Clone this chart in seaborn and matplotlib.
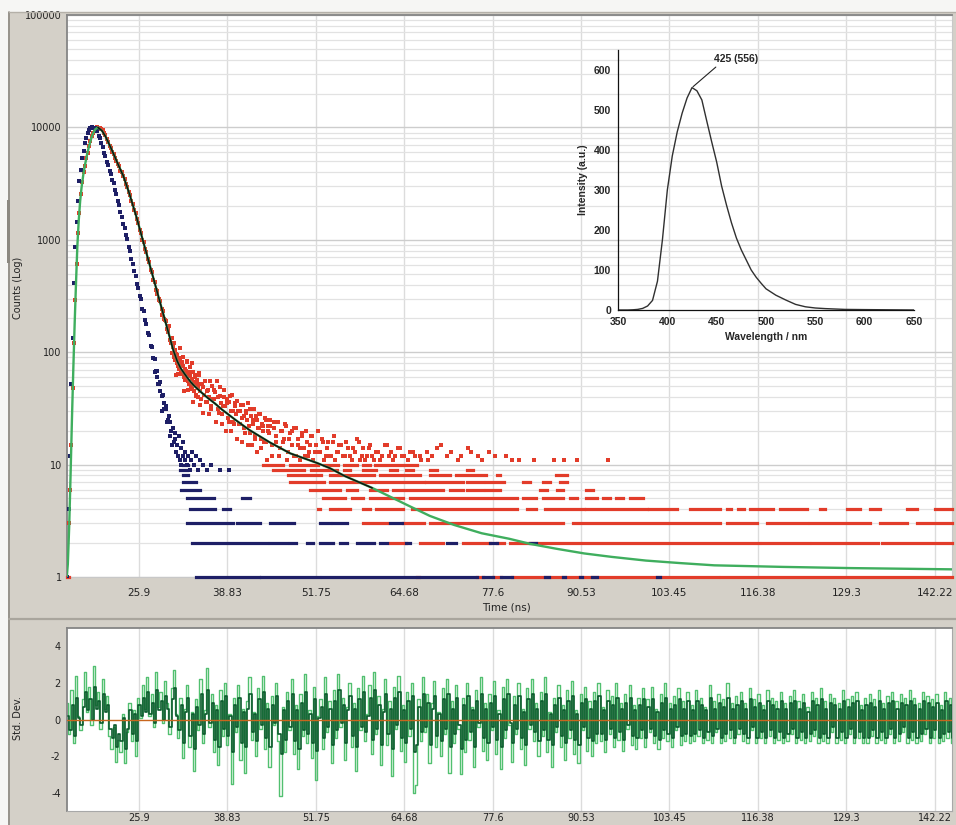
import numpy as np
import matplotlib
matplotlib.use("Agg")
import matplotlib.pyplot as plt
from matplotlib.patches import Rectangle
from matplotlib.lines import Line2D
from matplotlib.ticker import LogLocator, NullFormatter, FixedLocator, MultipleLocator
import seaborn as sns

sns.set_style("white")
plt.rcParams["font.family"] = ["DejaVu Sans"]

# ---------------- axis ticks ----------------
time_ticks = [25.9, 38.83, 51.75, 64.68, 77.6, 90.53, 103.45, 116.38, 129.3, 142.22]
time_tick_labels = ["25.9", "38.83", "51.75", "64.68", "77.6", "90.53",
                    "103.45", "116.38", "129.3", "142.22"]
count_ticks = [1, 10, 100, 1000, 10000, 100000]
count_tick_labels = ["1", "10", "100", "1000", "10000", "100000"]
resid_ticks = [-4, -2, 0, 2, 4]
resid_tick_labels = ["-4", "-2", "0", "2", "4"]

# ---------------- decay data (counts per channel) ----------------
channel_start = 15.4   # ns
channel_step = 0.2     # ns

# instrument response (prompt) near the peak
irf_counts = [1, 4, 12, 52, 135, 410, 870, 1430, 2200, 3350,
              4200, 5300, 6200, 7300, 8050, 8950, 9500, 9950, 10050, 9950,
              9900, 9500, 9200, 8450, 8000, 7200, 6700, 5950, 5550, 4950,
              4620, 4100, 3850, 3420, 3200, 2780, 2550, 2200, 2030, 1750,
              1610, 1390, 1280, 1100, 1020, 870, 790, 680, 615, 525,
              478, 405, 372, 315, 296, 243, 231, 192, 180, 148,
              141, 114, 111, 88, 87, 68, 68, 52, 54, 41,
              42, 31, 33, 24, 25, 18, 20, 15, 16]

# sample decay near the peak
decay_counts = [1, 3, 6, 15, 48, 120, 290, 610, 1150, 1740,
                2560, 3260, 4050, 4500, 5300, 5950, 6850, 7500, 8400, 8950,
                9600, 9850, 10050, 9950, 9900, 9600, 9400, 8850, 8550, 7900,
                7450, 6850, 6500, 6100, 5800, 5300, 5050, 4720, 4500, 4120,
                4020, 3680, 3460, 3120, 2950, 2650, 2480, 2200, 2080, 1830,
                1720, 1520, 1420, 1230, 1150, 1000, 950, 820, 775, 670,
                630, 540, 512, 440, 425, 360, 352, 296, 285, 240,
                232, 196, 190, 160, 156, 128]

# scattered low-count channels
irf_tail_time = [28.3, 28.5, 28.7, 29.0, 29.2, 29.5, 29.9, 30.3, 30.5, 30.9,
                 31.1, 31.2, 31.3, 31.5, 31.6, 31.7, 31.9, 32.0, 32.1, 32.3,
                 32.4, 32.6, 32.7, 32.9, 33.1, 33.3, 33.5, 33.7, 33.9, 34.2,
                 34.5, 34.8, 35.3, 35.8, 36.5, 37.8, 39.1]
irf_tail_counts = [66, 60, 52, 45, 30, 35, 31, 27, 24, 21,
                   19, 17, 13, 15, 12, 18, 11, 14, 10, 16,
                   12, 11, 13, 10, 12, 9, 11, 13, 10, 12,
                   9, 11, 10, 9, 10, 9, 9]

decay_tail_time = [28.5, 28.9, 29.3, 29.7, 30.1, 30.3,
                   30.6, 30.7, 30.8, 30.9, 31.0, 31.1, 31.2, 31.3, 31.4, 31.5,
                   31.6, 31.7, 31.8, 31.9, 32.0, 32.1, 32.2, 32.3, 32.4, 32.5,
                   32.6, 32.7, 32.8, 32.9, 33.0, 33.1, 33.2, 33.3, 33.4, 33.5,
                   33.6, 33.7, 33.8, 33.9, 34.0, 34.1, 34.2, 34.3, 34.4, 34.5,
                   34.6, 34.7, 34.8, 34.9, 35.0, 35.2, 35.4, 35.6, 35.8, 36.0,
                   36.2, 36.4, 36.6, 36.8, 37.0, 37.3, 37.5, 37.7, 37.9, 38.1,
                   38.3, 38.5, 38.7, 38.9, 39.1, 39.3, 39.5, 39.7, 39.9, 40.1,
                   40.3, 40.5, 40.7, 40.9, 41.1, 41.3, 41.5, 41.7, 41.9, 42.1,
                   42.3, 42.5, 42.7, 42.9, 43.1, 43.3, 43.5, 43.7, 43.9, 44.1,
                   44.3, 44.5, 44.7, 44.9, 45.1, 45.3, 45.6, 45.9, 46.2, 46.5,
                   46.8, 47.1, 47.4, 47.7, 48.0, 48.3, 48.6, 48.9, 49.2, 49.5,
                   49.8, 50.1, 50.4, 50.7, 51.0, 51.4, 51.8, 52.2, 52.6, 53.0,
                   53.4, 53.8, 54.2, 54.6, 55.0, 55.5, 56.0, 56.5, 57.0, 57.5,
                   58.0, 58.5, 59.0, 59.5, 60.0, 60.6, 61.2, 61.8, 62.4, 63.0,
                   63.7, 64.4, 65.2, 66.0, 67.0, 68.2, 69.5, 71.0, 72.5, 74.5,
                   76.0, 78.0, 81.5, 83.7, 88.0]
decay_tail_counts = [330, 290, 215, 195, 150, 170,
                     120, 135, 98, 112, 90, 104, 86, 97, 80, 92,
                     76, 88, 71, 84, 67, 79, 64, 75, 90, 60,
                     71, 57, 68, 82, 55, 64, 52, 61, 74, 50,
                     58, 47, 66, 54, 45, 60, 51, 42, 57, 48,
                     40, 63, 45, 52, 38, 49, 42, 55, 36, 46,
                     40, 33, 50, 38, 44, 55, 31, 41, 35, 28,
                     46, 33, 38, 26, 36, 30, 42, 24, 33, 28,
                     37, 23, 30, 26, 34, 21, 29, 25, 35, 19,
                     27, 23, 31, 18, 25, 21, 28, 17, 23, 20,
                     26, 16, 22, 19, 25, 15, 21, 18, 24, 14,
                     20, 17, 22, 13, 19, 15, 21, 12, 17, 14,
                     19, 12, 16, 13, 18, 11, 15, 13, 17, 11,
                     14, 12, 16, 11, 13, 15, 12, 14, 11, 13,
                     16, 12, 11, 14, 12, 13, 11, 15, 12, 11,
                     14, 12, 11, 13, 12, 11, 14, 12, 11, 13,
                     11, 12, 11, 11, 11]

# second pass of the same tail: the wider spread of the sparse channels
decay_spread_time = [31.05, 31.25, 31.45, 31.65, 31.85, 32.05, 32.25, 32.45, 32.65, 32.85,
                     33.05, 33.25, 33.45, 33.65, 33.85, 34.05, 34.25, 34.45, 34.65, 34.85,
                     35.1, 35.3, 35.5, 35.7, 35.9, 36.1, 36.3, 36.5, 36.7, 36.9,
                     37.1, 37.4, 37.6, 37.8, 38.0, 38.2, 38.4, 38.6, 38.8, 39.0,
                     39.2, 39.4, 39.6, 39.8, 40.0, 40.2, 40.4, 40.6, 40.8, 41.0,
                     41.2, 41.4, 41.6, 41.8, 42.0, 42.2, 42.4, 42.6, 42.8, 43.0,
                     43.2, 43.4, 43.6, 43.8, 44.0, 44.2, 44.4, 44.6, 44.8, 45.0,
                     45.4, 45.7, 46.0, 46.4, 46.7, 47.0, 47.3, 47.6, 47.9, 48.2,
                     48.5, 48.8, 49.1, 49.4, 49.7, 50.0, 50.3, 50.6, 50.9, 51.2,
                     51.6, 52.0, 52.4, 52.8, 53.2, 53.6, 54.0, 54.4, 54.8, 55.2,
                     55.7, 56.2, 56.7, 57.2, 57.7, 58.2, 58.7, 59.2, 59.7, 60.3,
                     60.9, 61.5, 62.1, 62.7, 63.3, 64.0, 64.7, 65.5, 66.3, 67.2,
                     68.0, 68.8, 70.0, 71.5, 73.0, 74.0, 75.5, 77.0, 79.5, 80.5,
                     86.5, 90.0, 94.5]
decay_spread_counts = [120, 63, 95, 64, 109, 64, 82, 45, 66, 84,
                       46, 67, 52, 80, 36, 63, 41, 52, 65, 34,
                       52, 29, 55, 36, 45, 28, 55, 31, 38, 46,
                       24, 40, 29, 49, 23, 33, 40, 20, 35, 24,
                       41, 20, 30, 23, 35, 17, 30, 23, 34, 16,
                       27, 19, 30, 15, 22, 31, 15, 25, 17, 27,
                       13, 21, 28, 14, 22, 16, 25, 11, 20, 22,
                       12, 24, 16, 12, 20, 16, 23, 11, 17, 20,
                       12, 21, 15, 11, 18, 14, 20, 12, 15, 18,
                       13, 20, 13, 16, 12, 16, 12, 18, 13, 15,
                       12, 16, 12, 14, 17, 11, 14, 12, 15, 11,
                       13, 12, 15, 13, 12, 14, 12, 13, 12, 11,
                       13, 12, 15, 13, 12, 14, 12, 13, 12, 11,
                       11, 11, 11]

# runs of consecutive channels holding the same small count: (count, from ns, to ns)
irf_runs = [
    (1, 34.3, 43.4), (1, 43.8, 52.2), (1, 52.6, 75.3), (1, 76.2, 77.6), (1, 78.8, 80.4),
    (1, 82.1, 82.1), (1, 85.3, 85.8), (1, 87.9, 88.2), (1, 90.3, 90.6), (1, 92.1, 92.9),
    (1, 96.2, 96.2), (1, 97.6, 97.6), (1, 100.1, 100.1), (1, 101.6, 102.1), (1, 108.4, 108.4),
    (1, 117.6, 117.6), (1, 120.5, 120.5), (1, 127.4, 127.4),
    (2, 33.7, 38.7), (2, 39.2, 44.6), (2, 45.0, 47.5), (2, 48.0, 48.9), (2, 50.4, 51.4),
    (2, 52.4, 54.3), (2, 55.3, 56.3), (2, 57.7, 60.2), (2, 61.1, 62.1), (2, 63.1, 63.1),
    (2, 65.0, 65.5), (2, 66.5, 66.5), (2, 67.9, 67.9), (2, 70.9, 72.3), (2, 77.2, 78.2),
    (2, 79.2, 79.2), (2, 81.1, 81.1), (2, 83.1, 84.0), (2, 87.4, 87.4), (2, 99.3, 99.3),
    (2, 117.5, 117.5), (2, 124.2, 124.2), (2, 140.0, 140.0),
    (3, 32.9, 39.7), (3, 40.2, 43.6), (3, 45.0, 48.5), (3, 51.4, 51.4), (3, 52.4, 53.8),
    (3, 54.3, 56.3), (3, 59.2, 59.2), (3, 62.6, 64.3), (3, 67.9, 67.9), (3, 86.0, 86.0),
    (3, 115.7, 115.7), (3, 139.6, 139.6),
    (4, 31.9, 31.9), (4, 33.4, 37.0), (4, 38.2, 39.2), (4, 40.4, 40.4), (4, 49.7, 49.7),
    (4, 135.2, 135.2),
    (5, 31.4, 31.4), (5, 32.9, 36.8), (5, 38.5, 38.5), (5, 40.9, 42.1),
    (6, 32.1, 34.8), (6, 35.8, 35.8),
    (7, 32.4, 34.3), (7, 36.3, 36.3),
    (8, 32.4, 33.1), (8, 33.8, 33.8),
    (9, 31.9, 32.9), (10, 32.4, 33.1),
]

decay_runs = [
    (1, 15.4, 15.6), (1, 64.6, 64.6), (1, 66.6, 66.9), (1, 68.2, 68.2), (1, 71.0, 71.0),
    (1, 73.3, 73.3), (1, 75.3, 76.2), (1, 77.6, 78.8), (1, 80.4, 110.5), (1, 111.0, 144.7),
    (2, 61.6, 61.6), (2, 62.6, 65.0), (2, 67.0, 70.4), (2, 73.3, 77.2), (2, 78.2, 79.2),
    (2, 80.1, 116.5), (2, 117.0, 123.8), (2, 124.3, 128.9), (2, 129.4, 134.0), (2, 134.5, 144.7),
    (3, 56.3, 56.3), (3, 58.7, 62.1), (3, 64.5, 67.5), (3, 68.4, 87.9), (3, 89.4, 103.1),
    (3, 103.5, 110.8), (3, 111.8, 116.2), (3, 117.7, 123.5), (3, 124.0, 132.8),
    (3, 134.2, 138.1), (3, 139.6, 144.7),
    (4, 50.6, 50.6), (4, 52.1, 52.4), (4, 53.8, 54.8), (4, 55.3, 56.7), (4, 58.7, 59.7),
    (4, 60.6, 64.5), (4, 65.8, 81.1), (4, 82.6, 84.0), (4, 85.3, 90.9), (4, 91.3, 100.1),
    (4, 100.5, 104.5), (4, 106.5, 110.8), (4, 111.8, 112.5), (4, 113.5, 114.3),
    (4, 115.2, 118.6), (4, 119.6, 123.5), (4, 125.5, 126.2), (4, 129.4, 131.3),
    (4, 132.8, 134.2), (4, 138.1, 139.6), (4, 140.8, 140.8), (4, 142.3, 144.7),
    (5, 47.2, 47.2), (5, 48.9, 48.9), (5, 52.8, 56.0), (5, 57.0, 58.7), (5, 59.7, 64.5),
    (5, 65.5, 81.1), (5, 82.1, 84.0), (5, 85.0, 87.9), (5, 88.9, 89.9), (5, 91.3, 92.8),
    (5, 93.8, 94.8), (5, 95.7, 96.7), (5, 97.7, 99.6), (5, 101.1, 101.1), (5, 102.3, 102.3),
    (5, 105.5, 105.5), (5, 106.7, 106.7), (5, 116.5, 116.5), (5, 124.2, 124.2),
    (5, 126.4, 126.4), (5, 136.2, 136.2),
    (6, 50.9, 55.3), (6, 56.3, 57.7), (6, 59.7, 62.1), (6, 63.1, 70.4), (6, 71.4, 73.3),
    (6, 73.8, 76.2), (6, 76.7, 78.7), (6, 81.1, 81.1), (6, 84.5, 85.5), (6, 87.0, 87.9),
    (6, 91.3, 92.3), (6, 96.7, 96.7), (6, 110.8, 110.8), (6, 119.9, 119.9),
    (7, 48.0, 53.0), (7, 53.8, 60.2), (7, 60.6, 67.5), (7, 67.9, 73.3), (7, 73.8, 76.2),
    (7, 76.7, 79.2), (7, 82.1, 83.1), (7, 85.0, 86.0), (7, 87.4, 88.4), (7, 104.0, 104.0),
    (7, 109.4, 109.4),
    (8, 47.7, 52.5), (8, 53.8, 60.2), (8, 61.1, 67.0), (8, 68.4, 71.4), (8, 72.3, 76.7),
    (8, 78.2, 78.7), (8, 86.9, 88.4),
    (9, 45.5, 50.0), (9, 51.0, 54.8), (9, 55.8, 56.7), (9, 58.7, 60.6), (9, 62.6, 63.6),
    (9, 65.0, 66.0), (9, 68.4, 69.4), (9, 73.8, 74.8), (9, 82.6, 82.6), (9, 85.3, 85.3),
    (10, 44.0, 47.0), (10, 48.0, 52.0), (10, 53.0, 55.0), (10, 55.8, 57.7), (10, 58.7, 59.7),
    (10, 60.4, 66.5), (10, 70.4, 70.4), (10, 73.3, 73.3), (10, 91.8, 91.8),
]

# reconvolution fit
fit_time = [15.35, 15.5, 15.7, 15.9, 16.1, 16.3, 16.5, 16.7, 16.9, 17.1,
            17.3, 17.5, 17.75, 18.0, 18.3, 18.6, 18.9, 19.2, 19.5, 19.9,
            20.5, 21.0, 21.4, 22.0, 22.5, 23.0, 23.6, 24.0, 24.5, 25.0,
            25.5, 26.0, 26.4, 27.0, 27.5, 28.0, 28.5, 29.0, 29.5, 30.0,
            30.5, 30.9, 31.5, 32.0, 32.5, 33.0, 33.5, 34.0, 35.0, 36.0,
            37.0, 38.0, 40.0, 42.0, 45.0, 48.0, 52.0, 53.8, 56.0, 60.0,
            65.0, 68.4, 72.0, 76.0, 80.0, 83.1, 87.0, 91.0, 95.0, 100.0,
            105.0, 110.0, 120.0, 130.0, 144.75]
fit_counts = [1.0, 1.3, 2.8, 8, 25, 70, 180, 420, 900, 1500,
              2200, 2900, 3750, 4600, 5700, 6800, 7900, 8900, 9600, 10000,
              9333, 8318, 7413, 6166, 5248, 4467, 3715, 3162, 2570, 2042,
              1622, 1259, 1023, 759, 589, 457, 355, 275, 214, 166,
              129, 105, 83, 72, 65, 59, 54, 50, 44, 39,
              35, 31, 25, 20.4, 15.8, 12.6, 10.3, 9.3, 7.9, 6.2,
              4.4, 3.5, 2.9, 2.45, 2.19, 1.97, 1.78, 1.62, 1.51, 1.40,
              1.33, 1.27, 1.23, 1.20, 1.17]
fit_range = (19.9, 60.0)   # channels used for the fit

# weighted residuals, one value per 0.325 ns channel
resid_step = 0.325
resid_light = [
    0.9, -0.8, 1.6, -1.3, 2.4, 0.2, -0.6, 1.1, 2.6, 0.4, 1.8, -0.3, 2.9, 0.8, 1.5, -0.5, 2.2, 0.6, 1.3, -0.9,
    -1.6, -0.4, -2.3, -1.1, -1.8, 0.3, -2.4, -0.7, 0.9, -1.2, 0.5, -2.0, 1.2, 0.1, 1.9, 0.6, 2.3, 0.2, 1.4, -0.4,
    2.6, 0.7, 1.5, -0.2, 2.1, 0.9, -0.8, 1.7, 2.7, 0.3, -1.0, 1.2, -2.1, 0.6, 1.9, -1.5, 0.4, -2.8, 1.1, -0.6,
    2.2, -1.3, 0.5, 2.8, -0.4, 1.4, -1.8, 0.8, -2.5, 1.6, -0.9, 2.0, -1.4, 0.3, -3.5, 1.2, -0.7, 1.9, -2.2, 0.6,
    -2.9, 1.0, 2.3, -1.1, 0.4, -2.0, 1.7, -0.5, 2.4, -1.6, 0.9, -2.6, 1.3, -0.3, 2.0, -1.2, -4.2, 0.7, -1.8, 1.5,
    -0.6, 2.2, -1.9, 0.8, -2.7, 1.4, -0.9, 2.5, -1.3, 0.5, -2.1, 1.8, -3.3, 0.2, 1.1, -1.6, 2.3, -0.7, 1.0, -2.4,
    1.6, -1.0, 2.5, -0.4, 1.2, -2.2, 0.7, 2.0, -1.5, 0.9, -2.8, 1.7, -0.6, 2.4, -1.2, 0.3, 1.9, -1.9, 2.6, -0.8,
    1.3, -2.5, 0.6, 2.2, -1.4, 1.0, -3.1, 1.8, -0.5, 2.4, -1.7, 0.8, -2.3, 1.5, -0.9, 2.0, -4.0, -3.6, 1.1, -1.2,
    2.3, -0.7, 1.4, -2.4, 0.9, 2.1, -1.5, 0.4, -2.0, 1.7, -0.8, 2.2, -2.9, 1.0, -1.3, 1.9, -0.5, -3.0, 1.2, -1.8,
    2.0, -1.1, 0.7, -2.6, 1.6, -0.4, 2.3, -1.7, 0.9, -2.2, 1.4, -0.6, 2.1, -1.9, 0.5, -2.7, 1.8, -1.0, 2.2, -0.3,
    -2.3, 1.3, -0.8, 2.0, -1.6, 0.6, -2.5, 1.7, -0.5, 2.2, -1.2, 0.9, -2.0, 1.5, -0.9, 2.3, -1.8, 0.4, -2.6, 1.2,
    -0.7, 1.9, -1.5, 0.8, -2.2, 1.6, -1.0, 2.1, -1.9, 0.5, -2.4, 1.4, -0.6, 1.8, -1.7, 1.0, -2.0, 1.5, -1.3, 2.0,
    -1.2, 0.7, -1.8, 1.6, -0.8, 1.3, -1.5, 2.0, -1.1, 0.9, -1.7, 1.4, -0.5, 1.9, -1.4, 0.8, -1.6, 1.2, -1.0, 1.7,
    -1.5, 1.1, -0.7, 1.8, -1.3, 0.6, -1.6, 1.4, -1.0, 2.0, -1.2, 0.9, -1.5, 1.3, -0.6, 1.7, -1.4, 1.0, -1.2, 1.5,
    -1.3, 0.8, -1.2, 1.6, -0.9, 1.2, -1.3, 0.7, -1.1, 1.9, -1.3, 1.0, -0.7, 1.4, -1.3, 1.1, -1.2, 2.0, -1.0, 0.9,
    -1.3, 1.3, -0.8, 1.5, -1.2, 0.9, -1.3, 1.7, -0.6, 1.1, -1.3, 1.4, -1.0, 0.8, -1.3, 1.6, -0.9, 1.2, -1.3, 1.0,
    -1.1, 1.5, -1.3, 0.9, -1.2, 1.3, -0.8, 1.6, -1.3, 1.0, -1.1, 1.4, -1.3, 0.7, -1.2, 1.5, -0.9, 1.2, -1.3, 1.7,
    -1.2, 1.0, -1.3, 1.4, -0.7, 1.2, -1.3, 0.9, -1.1, 1.6, -1.3, 1.1, -0.8, 1.3, -1.3, 1.5, -1.0, 0.8, -1.3, 1.2,
    -1.3, 1.4, -0.9, 1.1, -1.3, 1.6, -1.1, 0.9, -1.3, 1.3, -0.8, 1.5, -1.3, 1.0, -1.2, 1.4, -0.7, 1.2, -1.3, 1.6,
    -1.1, 1.2, -1.3, 0.9, -1.2, 1.5, -0.8, 1.3, -1.3, 1.1, -1.0, 1.4, -1.3, 0.8, -1.2, 1.5, -1.0, 1.2, -1.3, 1.3]
resid_dark = [
    0.2, -0.6, 0.8, -0.9, 1.2, 0.1, -0.3, 0.7, 1.5, 0.5, 1.1, 0.0, 1.8, 0.6, 1.0, -0.2, 1.4, 0.4, 0.8, -0.5,
    -1.0, -0.3, -1.5, -0.8, -1.2, 0.1, -1.6, -0.5, 0.5, -0.8, 0.3, -1.2, 0.8, 0.2, 1.2, 0.4, 1.5, 0.3, 0.9, -0.2,
    1.6, 0.5, 1.0, 0.0, 1.3, 0.6, -0.4, 1.1, 1.7, 0.2, -0.6, 0.8, -1.3, 0.4, 1.2, -0.9, 0.3, -1.6, 0.7, -0.3,
    1.4, -0.8, 0.3, 1.6, -0.2, 0.9, -1.1, 0.5, -1.5, 1.0, -0.5, 1.3, -0.9, 0.2, -1.8, 0.8, -0.4, 1.2, -1.3, 0.4,
    -1.5, 0.6, 1.4, -0.7, 0.3, -1.2, 1.1, -0.3, 1.5, -1.0, 0.6, -1.5, 0.8, -0.2, 1.3, -0.8, -1.9, 0.5, -1.1, 1.0,
    -0.4, 1.4, -1.2, 0.5, -1.6, 0.9, -0.6, 1.5, -0.8, 0.3, -1.3, 1.1, -1.7, 0.1, 0.7, -1.0, 1.4, -0.4, 0.6, -1.4,
    1.0, -0.6, 1.6, -0.2, 0.8, -1.3, 0.5, 1.3, -0.9, 0.6, -1.5, 1.1, -0.4, 1.5, -0.7, 0.2, 1.2, -1.1, 1.6, -0.5,
    0.8, -1.4, 0.4, 1.4, -0.8, 0.6, -1.6, 1.2, -0.3, 1.5, -1.0, 0.5, -1.3, 1.0, -0.5, 1.3, -1.8, -1.4, 0.7, -0.7,
    1.4, -0.4, 0.9, -1.4, 0.6, 1.3, -0.9, 0.3, -1.2, 1.1, -0.5, 1.4, -1.5, 0.6, -0.8, 1.2, -0.3, -1.6, 0.8, -1.1,
    1.3, -0.7, 0.5, -1.5, 1.0, -0.2, 1.4, -1.0, 0.6, -1.3, 0.9, -0.4, 1.3, -1.1, 0.3, -1.5, 1.1, -0.6, 1.4, -0.2,
    -1.3, 0.8, -0.5, 1.3, -1.0, 0.4, -1.4, 1.1, -0.3, 1.4, -0.7, 0.6, -1.2, 1.0, -0.6, 1.4, -1.1, 0.3, -1.4, 0.8,
    -0.4, 1.2, -0.9, 0.5, -1.3, 1.0, -0.6, 1.3, -1.1, 0.3, -1.4, 0.9, -0.4, 1.1, -1.0, 0.6, -1.2, 1.0, -0.8, 1.3,
    -0.8, 0.5, -1.1, 1.0, -0.5, 0.8, -1.0, 1.2, -0.7, 0.6, -1.1, 0.9, -0.3, 1.2, -0.9, 0.5, -1.0, 0.8, -0.6, 1.1,
    -1.0, 0.7, -0.5, 1.1, -0.9, 0.4, -1.1, 0.9, -0.6, 1.2, -0.8, 0.6, -1.0, 0.8, -0.4, 1.1, -0.9, 0.6, -0.8, 1.0,
    -0.9, 0.5, -0.8, 1.0, -0.6, 0.8, -1.0, 0.5, -0.7, 1.2, -0.9, 0.6, -0.5, 0.9, -1.0, 0.7, -0.8, 1.2, -0.6, 0.6,
    -1.0, 0.8, -0.5, 1.0, -0.8, 0.6, -1.0, 1.1, -0.4, 0.7, -1.0, 0.9, -0.7, 0.5, -1.0, 1.0, -0.6, 0.8, -1.0, 0.6,
    -0.7, 1.0, -1.0, 0.6, -0.8, 0.9, -0.5, 1.0, -1.0, 0.6, -0.7, 0.9, -1.0, 0.4, -0.8, 1.0, -0.6, 0.8, -1.0, 1.1,
    -0.8, 0.6, -1.0, 0.9, -0.4, 0.8, -1.0, 0.6, -0.7, 1.0, -1.0, 0.7, -0.5, 0.9, -1.0, 1.0, -0.7, 0.5, -1.0, 0.8,
    -1.0, 0.9, -0.6, 0.7, -1.0, 1.0, -0.7, 0.6, -1.0, 0.9, -0.5, 1.0, -1.0, 0.6, -0.8, 0.9, -0.4, 0.8, -1.0, 1.0,
    -0.7, 0.8, -1.0, 0.6, -0.8, 1.0, -0.5, 0.9, -1.0, 0.7, -0.6, 0.9, -1.0, 0.5, -0.8, 1.0, -0.7, 0.8, -1.0, 0.9]

# steady-state emission spectrum (inset)
wavelength = [350, 360, 365, 370, 375, 380, 385, 390, 395, 400, 405, 410, 415, 420, 425,
              430, 435, 440, 445, 450, 455, 460, 465, 470, 475, 480, 485, 490, 495, 500,
              510, 520, 530, 540, 550, 560, 570, 580, 600, 625, 650]
intensity = [0, 0, 0.5, 1.5, 4, 10, 24, 72, 175, 300, 385, 445, 492, 530, 556,
             548, 525, 472, 420, 370, 310, 262, 218, 180, 150, 125, 100, 82, 67, 53,
             37, 25, 14, 8, 5, 3.5, 2.5, 1.5, 1, 0.5, 0]
peak_wavelength = 425
peak_intensity = 556

# ---------------- styling ----------------
PANEL = "#d4d0c8"
NAVY = "#1e1f66"
RED = "#e23c2a"
FIT_GREEN = "#3fae5e"
LIGHT_GREEN = "#52c070"
DARK_GREEN = "#0b5a2c"
GRID = "#dcdcdc"
TXT = "#222222"

W, H = 956, 825
fig = plt.figure(figsize=(W / 100, H / 100), dpi=100, facecolor=PANEL)


def fx(px):
    return px / W


def fy(py):
    return 1 - py / H


# window chrome: white margin, splitter line and separator between panels
fig.add_artist(Rectangle((0, fy(11.5)), 1, 1 - fy(11.5), transform=fig.transFigure,
                         facecolor="#f6f6f4", edgecolor="none", zorder=-5))
fig.add_artist(Rectangle((0, 0), fx(8), 1, transform=fig.transFigure,
                         facecolor="#f6f6f4", edgecolor="none", zorder=-5))
fig.add_artist(Line2D([fx(8.5), fx(8.5)], [0, fy(11.5)], transform=fig.transFigure,
                      color="#8c8880", lw=1.2))
fig.add_artist(Line2D([fx(8.5), 1], [fy(11.5), fy(11.5)], transform=fig.transFigure,
                      color="#b4b0a8", lw=1.0))
fig.add_artist(Rectangle((fx(7), fy(263)), fx(3), fy(200) - fy(263), transform=fig.transFigure,
                         facecolor="#8c8880", edgecolor="none"))
fig.add_artist(Line2D([fx(8.5), 1], [fy(618.5), fy(618.5)], transform=fig.transFigure,
                      color="#a9a59d", lw=1.6))

xlim = (15.38, 144.75)

# ---------------- main decay panel ----------------
ax = fig.add_axes([fx(67), fy(577), fx(952) - fx(67), fy(15) - fy(577)])
ax.set_facecolor("white")
ax.set_yscale("log")
ax.set_xlim(*xlim)
ax.set_ylim(1, 1e5)
ax.set_axisbelow(True)

ax.yaxis.set_major_locator(FixedLocator(count_ticks))
ax.set_yticklabels(count_tick_labels)
ax.yaxis.set_minor_locator(LogLocator(base=10, subs=np.arange(2, 10), numticks=20))
ax.yaxis.set_minor_formatter(NullFormatter())
ax.set_xticks(time_ticks)
ax.set_xticklabels(time_tick_labels)
ax.tick_params(axis="x", which="major", direction="out", length=5.5, width=1.1,
               color="#333333", pad=2.5, labelsize=7.5, labelcolor=TXT)
ax.tick_params(axis="y", which="both", length=0, pad=3.8, labelsize=7, labelcolor=TXT)
ax.grid(axis="x", which="major", color=GRID, lw=1.0)
ax.grid(axis="y", which="major", color="#cdcdcd", lw=1.0)
ax.grid(axis="y", which="minor", color="#e2e2e2", lw=0.9)
for side in ("left", "top"):
    ax.spines[side].set_color("#858585")
    ax.spines[side].set_linewidth(1.3)
for side in ("right", "bottom"):
    ax.spines[side].set_color("#c8c8c8")
    ax.spines[side].set_linewidth(0.8)


def draw_runs(axis, runs, color, z):
    lv = [r[0] for r in runs]
    start = [r[1] for r in runs]
    stop = [r[2] for r in runs]
    axis.hlines(lv, start, stop, colors=color, lw=2.3, capstyle="projecting",
                zorder=z, clip_on=False)


irf_time = channel_start + channel_step * np.arange(len(irf_counts))
decay_time = channel_start + channel_step * np.arange(len(decay_counts))

draw_runs(ax, decay_runs, RED, 3)
draw_runs(ax, irf_runs, NAVY, 4)
for tx, cy in ((decay_time, decay_counts), (decay_tail_time, decay_tail_counts),
               (decay_spread_time, decay_spread_counts)):
    sns.scatterplot(x=tx, y=cy, ax=ax, color=RED, marker="s", s=7,
                    linewidth=0, zorder=3, legend=False)
for tx, cy in ((irf_time, irf_counts), (irf_tail_time, irf_tail_counts)):
    sns.scatterplot(x=tx, y=cy, ax=ax, color=NAVY, marker="s", s=7,
                    linewidth=0, zorder=4, legend=False)

fit_t = np.asarray(fit_time)
fit_c = np.asarray(fit_counts)
sns.lineplot(x=fit_t, y=fit_c, ax=ax, color=FIT_GREEN, lw=1.7, estimator=None,
             sort=False, zorder=6, legend=False)
in_fit = (fit_t >= fit_range[0]) & (fit_t <= fit_range[1])
sns.lineplot(x=fit_t[in_fit], y=fit_c[in_fit], ax=ax, color="#111111", lw=1.1,
             estimator=None, sort=False, zorder=7, legend=False)
ax.set_xlabel("")
ax.set_ylabel("")

fig.text(fx(18), fy(288), "Counts (Log)", rotation=90, ha="center", va="center",
         fontsize=7, color=TXT)
fig.text(fx(506), fy(608), "Time (ns)", ha="center", va="center", fontsize=7.5, color=TXT)

# ---------------- emission spectrum inset ----------------
axi = fig.add_axes([fx(618), fy(310), fx(914) - fx(618), fy(50) - fy(310)])
axi.patch.set_alpha(0)
axi.set_xlim(350, 650)
axi.set_ylim(0, 650)
sns.lineplot(x=wavelength, y=intensity, ax=axi, color="#303030", lw=1.0,
             estimator=None, legend=False)
for side in ("top", "right"):
    axi.spines[side].set_visible(False)
for side in ("left", "bottom"):
    axi.spines[side].set_color("#111111")
    axi.spines[side].set_linewidth(0.9)
axi.xaxis.set_major_locator(MultipleLocator(50))
axi.xaxis.set_minor_locator(MultipleLocator(25))
axi.yaxis.set_major_locator(MultipleLocator(100))
axi.yaxis.set_minor_locator(MultipleLocator(50))
axi.tick_params(which="major", direction="out", length=3, width=0.8, color="#111111",
                labelsize=7.5, pad=2)
axi.tick_params(which="minor", direction="out", length=1.8, width=0.7, color="#111111")
for lab in axi.get_xticklabels() + axi.get_yticklabels():
    lab.set_fontfamily("Liberation Sans")
    lab.set_fontweight("bold")
axi.set_xlabel("Wavelength / nm", fontsize=7.5, fontweight="bold",
               fontfamily="Liberation Sans", labelpad=4)
axi.set_ylabel("Intensity (a.u.)", fontsize=7.5, fontweight="bold",
               fontfamily="Liberation Sans", labelpad=4)
axi.annotate(f"{peak_wavelength} ({peak_intensity})",
             xy=(peak_wavelength, peak_intensity), xytext=(470, 628),
             ha="center", va="center", fontsize=7.5, fontweight="bold",
             fontfamily="Liberation Sans",
             arrowprops=dict(arrowstyle="-", color="#222222", lw=0.8,
                             relpos=(0.12, 0.0), shrinkA=0, shrinkB=1))

# ---------------- residual panel ----------------
axr = fig.add_axes([fx(67), fy(811), fx(952) - fx(67), fy(628) - fy(811)])
axr.set_facecolor("white")
axr.set_xlim(*xlim)
axr.set_ylim(-5, 5)
axr.set_axisbelow(True)
axr.set_xticks(time_ticks)
axr.set_xticklabels(time_tick_labels)
axr.set_yticks(resid_ticks)
axr.set_yticklabels(resid_tick_labels)
axr.tick_params(axis="x", length=0, pad=1.5, labelsize=7, labelcolor=TXT)
axr.tick_params(axis="y", length=0, pad=4.5, labelsize=7, labelcolor=TXT)
axr.grid(axis="x", color=GRID, lw=1.0)
for side in ("left", "top"):
    axr.spines[side].set_color("#858585")
    axr.spines[side].set_linewidth(1.3)
for side in ("right", "bottom"):
    axr.spines[side].set_color("#a8a8a8")
    axr.spines[side].set_linewidth(0.8)

resid_time_light = channel_start + resid_step * np.arange(len(resid_light))
resid_time_dark = channel_start + resid_step / 2 + resid_step * np.arange(len(resid_dark))
sns.lineplot(x=resid_time_light, y=resid_light, ax=axr, color=LIGHT_GREEN, lw=1.0,
             drawstyle="steps-mid", estimator=None, sort=False, legend=False, zorder=2)
sns.lineplot(x=resid_time_dark, y=resid_dark, ax=axr, color=DARK_GREEN, lw=1.2,
             drawstyle="steps-mid", estimator=None, sort=False, legend=False, zorder=3)
axr.axhline(0, color="#c8661e", lw=1.0, zorder=4)
axr.set_xlabel("")
axr.set_ylabel("")
fig.text(fx(18), fy(718), "Std. Dev.", rotation=90, ha="center", va="center",
         fontsize=7, color=TXT)

fig.savefig("out.png", dpi=100, facecolor=PANEL)
